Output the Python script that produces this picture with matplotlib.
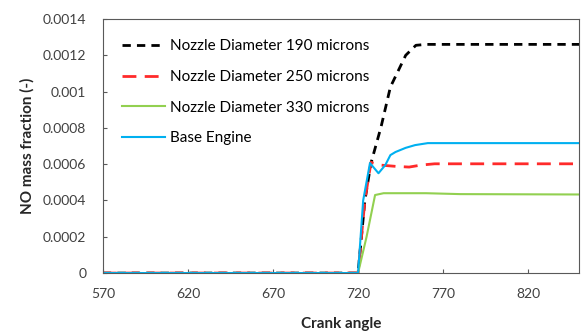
import matplotlib.pyplot as plt
import numpy as np

# crank angle / NO mass fraction
angle_190 = [570, 720, 724, 727.6, 733.5, 739, 748, 754, 760, 850]
no_190 = [0, 0, 0.0004, 0.000606, 0.000805, 0.001025, 0.0012, 0.001255, 0.00126, 0.00126]

angle_250 = [570, 720, 724, 727.6, 733, 742, 750, 757, 765, 850]
no_250 = [0, 0, 0.0004, 0.00061, 0.000595, 0.000588, 0.000584, 0.000595, 0.000602, 0.000602]

angle_330 = [570, 720, 725, 730, 735, 760, 780, 850]
no_330 = [0, 0, 0.0002, 0.00043, 0.00044, 0.00044, 0.000435, 0.000433]

angle_base = [570, 720, 723, 727, 732, 736, 739, 742, 748, 753.5, 761, 850]
no_base = [0, 0, 0.0004, 0.000606, 0.00055, 0.000595, 0.00065, 0.000667, 0.00069, 0.000705, 0.000716, 0.000716]

xticks = [570, 620, 670, 720, 770, 820]
yticks = [0, 0.0002, 0.0004, 0.0006, 0.0008, 0.001, 0.0012, 0.0014]
ytick_labels = ['0', '0.0002', '0.0004', '0.0006', '0.0008', '0.001', '0.0012', '0.0014']

plt.rcParams['font.family'] = ['Lato', 'DejaVu Sans']

fig = plt.figure(figsize=(5.81, 3.33), dpi=100)
ax = fig.add_axes([0.177, 0.18, 0.82, 0.763])

ax.plot(angle_190, no_190, color='black', lw=2, dashes=(3, 2.2), label='Nozzle Diameter 190 microns')
ax.plot(angle_250, no_250, color='#ff2a2a', lw=2, dashes=(5, 3), label='Nozzle Diameter 250 microns')
ax.plot(angle_330, no_330, color='#92d050', lw=1.5, label='Nozzle Diameter 330 microns')
ax.plot(angle_base, no_base, color='#00b0f0', lw=1.5, label='Base Engine')

ax.set_xlim(570, 850)
ax.set_ylim(0, 0.0014)
ax.set_xticks(xticks)
ax.set_yticks(yticks)
ax.set_yticklabels(ytick_labels)
ax.tick_params(direction='in', length=3, labelsize=10, colors='#595959', labelcolor='#404040')
ax.tick_params(axis='x', pad=11)
ax.tick_params(axis='y', pad=12)
for s in ax.spines.values():
	s.set_color('#595959')

ax.set_xlabel('Crank angle', fontsize=11, fontweight='bold', color='#262626', labelpad=12)
ax.set_ylabel('NO mass fraction (-)', fontsize=11, fontweight='bold', color='#262626', labelpad=6)

ax.legend(loc='upper left', frameon=False, fontsize=11, handlelength=2.8, labelspacing=1.1,
	borderaxespad=0.0, bbox_to_anchor=(0.027, 0.945), handletextpad=0.35)

fig.savefig('out.png', dpi=100)
